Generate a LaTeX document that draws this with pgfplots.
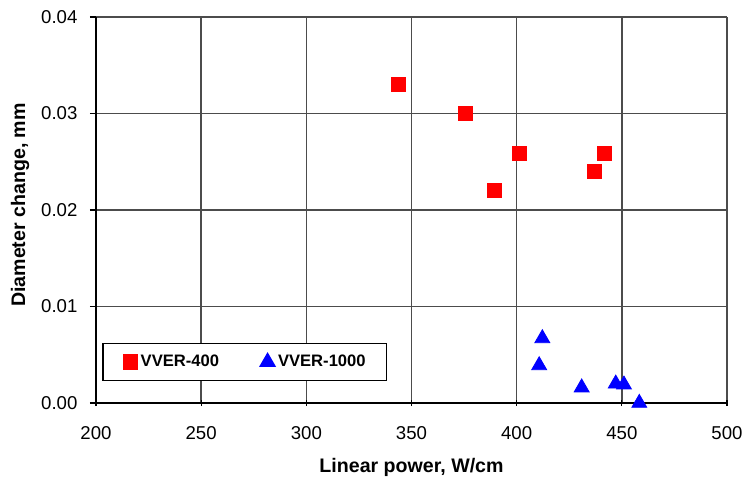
\documentclass[border=0pt]{standalone}
\usepackage{fontspec}
\setmainfont{Liberation Sans}
\usepackage{pgfplots}
\pgfplotsset{compat=1.18}

\begin{document}
\fontsize{9.3pt}{11pt}\selectfont
\begin{tikzpicture}
\begin{axis}[
  scale only axis,
  width=315.5pt, height=193pt,
  xmin=200, xmax=500, ymin=0, ymax=0.04,
  xtick={200,250,...,500},
  ytick={0,0.01,0.02,0.03,0.04},
  axis x line*=bottom, axis y line*=left,
  axis line style={black, line width=0.6pt, -},
  xmajorgrids, ymajorgrids,
  grid style={black!70, line width=0.7pt},
  xtick align=center, ytick align=outside,
  major tick length=3pt,
  tick style={black, line width=0.6pt},
  /pgf/number format/assume math mode=true,
  scaled y ticks=false,
  yticklabel style={/pgf/number format/fixed, /pgf/number format/fixed zerofill,
    /pgf/number format/precision=2, xshift=-3pt},
  tick label style={font=\fontsize{9.3pt}{11pt}\selectfont},
  xticklabel style={yshift=-7pt},
  xlabel={\textbf{Linear power, W/cm}},
  ylabel={\textbf{Diameter change, mm}},
  xlabel style={at={(axis description cs:0.5,-0.166)}, anchor=center},
  ylabel style={at={(axis description cs:-0.1204,0.513)}, anchor=center},
  label style={font=\fontsize{9.8pt}{11pt}\selectfont},
  legend columns=2,
  legend image code/.code={\draw[#1] plot coordinates {(0pt,0pt)};},
  legend style={at={(0.01,0.0578)}, anchor=south west, draw=black, line width=0.6pt,
    fill=white, font=\bfseries\fontsize{8.3pt}{10pt}\selectfont,
    inner xsep=10.4pt, inner ysep=4.5pt,
    nodes={inner xsep=0pt, inner ysep=1pt},
    /tikz/every odd column/.append style={column sep=1.5pt},
    /tikz/every even column/.append style={column sep=20.5pt}},
  legend cell align=left,
  clip=false,
]
\addplot[only marks, mark=square*, mark size=3.5pt, color=red, mark options={fill=red, draw=red}]
  coordinates {
  (343.6,0.0330) (375.4,0.0300) (389.2,0.0220) (401.1,0.0259) (436.8,0.0240) (441.5,0.0259)
  };
\addlegendentry{VVER-400}
\addplot[only marks, mark=triangle*, mark size=4.3pt, color=blue, mark options={fill=blue, draw=blue}]
  coordinates {
  (412.2,0.0067) (410.7,0.0039) (430.9,0.0016) (447.1,0.0020) (451.0,0.0019) (458.3,0.0000)
  };
\addlegendentry{VVER-1000}
\end{axis}
\pgfresetboundingbox
\useasboundingbox (-48pt,-38pt) rectangle (323.5pt,201.5pt);
\end{tikzpicture}
\end{document}
